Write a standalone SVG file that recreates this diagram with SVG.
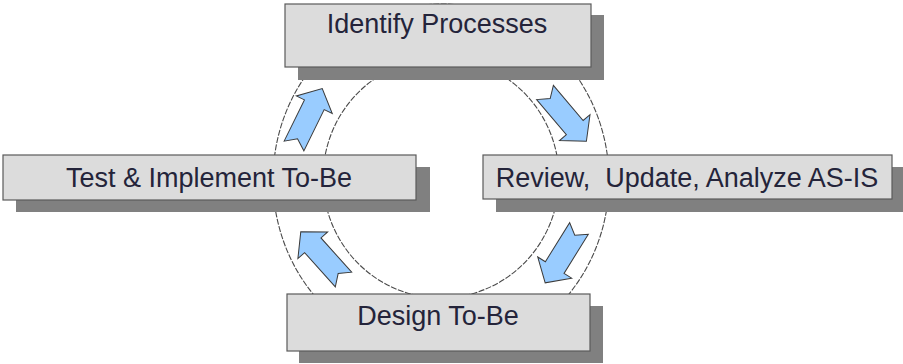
<svg xmlns="http://www.w3.org/2000/svg" width="903" height="364" viewBox="0 0 903 364">
<defs>
<style>
.ring{fill:none;stroke:#4a4a4a;stroke-width:1.1;stroke-dasharray:6 1.5}
.shadow{fill:#808080}
.box{fill:#dcdcdc;stroke:#5a5a5a;stroke-width:1.2}
.lbl{font-family:"Liberation Sans",Arial,sans-serif;font-size:27px;fill:#24243a;text-anchor:middle}
.arrow{fill:#99ccff;stroke:#3a3a3a;stroke-width:1}
</style>
<path id="arr" d="M0,-11 L46,-11 L46,-20 L64,0 L46,20 L46,11 L0,11 L8,0 Z"/>
</defs>
<rect width="903" height="364" fill="#ffffff"/>
<g id="connectors">
<ellipse class="ring" cx="441" cy="180" rx="168" ry="176"/>
<ellipse class="ring" cx="441" cy="178" rx="118" ry="120"/>
</g>
<g id="node-identify">
<rect class="shadow" x="298" y="15" width="306" height="65"/>
<rect class="box" x="285" y="4" width="306" height="63"/>
<text class="lbl" x="437" y="33">Identify Processes</text>
</g>
<g id="node-test">
<rect class="shadow" x="16" y="167" width="414" height="45"/>
<rect class="box" x="3" y="155" width="413" height="45"/>
<text class="lbl" x="209" y="187">Test &amp; Implement To-Be</text>
</g>
<g id="node-review">
<rect class="shadow" x="496" y="167" width="407" height="45"/>
<rect class="box" x="483" y="155" width="409" height="44"/>
<text class="lbl" x="687" y="187" xml:space="preserve">Review,  Update, Analyze AS-IS</text>
</g>
<g id="node-design">
<rect class="shadow" x="299" y="306" width="304" height="57"/>
<rect class="box" x="287" y="294" width="303" height="57"/>
<text class="lbl" x="438" y="325">Design To-Be</text>
</g>
<g id="arrows">
<use href="#arr" class="arrow" transform="translate(294,146) rotate(-63.8)"/>
<use href="#arr" class="arrow" transform="translate(545,92.5) rotate(49.7)"/>
<use href="#arr" class="arrow" transform="translate(579,228.5) rotate(121.9)"/>
<use href="#arr" class="arrow" transform="translate(343.5,279.5) rotate(228.1)"/>
</g>
</svg>
